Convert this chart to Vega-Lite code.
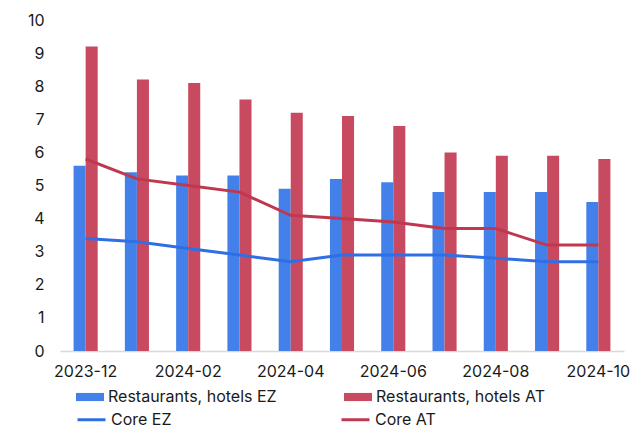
{
  "$schema": "https://vega.github.io/schema/vega-lite/v6.json",
  "autosize": {"type": "none"},
  "width": 564,
  "height": 331,
  "padding": {"left": 60, "top": 20, "right": 14, "bottom": 76},
  "config": {
    "font": "Inter",
    "view": {"stroke": null},
    "axis": {"labelFont": "Inter", "labelFontSize": 16, "labelColor": "#1a1a1a", "title": null, "grid": false, "ticks": false},
    "legend": {"labelFont": "Inter", "labelFontSize": 16, "labelColor": "#1a1a1a", "labelOffset": 4, "labelLimit": 300, "title": null, "padding": 0}
  },
  "datasets": {
    "bars": [
      {"month": "2023-12", "series": "Restaurants, hotels EZ", "value": 5.6},
      {"month": "2024-01", "series": "Restaurants, hotels EZ", "value": 5.4},
      {"month": "2024-02", "series": "Restaurants, hotels EZ", "value": 5.3},
      {"month": "2024-03", "series": "Restaurants, hotels EZ", "value": 5.3},
      {"month": "2024-04", "series": "Restaurants, hotels EZ", "value": 4.9},
      {"month": "2024-05", "series": "Restaurants, hotels EZ", "value": 5.2},
      {"month": "2024-06", "series": "Restaurants, hotels EZ", "value": 5.1},
      {"month": "2024-07", "series": "Restaurants, hotels EZ", "value": 4.8},
      {"month": "2024-08", "series": "Restaurants, hotels EZ", "value": 4.8},
      {"month": "2024-09", "series": "Restaurants, hotels EZ", "value": 4.8},
      {"month": "2024-10", "series": "Restaurants, hotels EZ", "value": 4.5},
      {"month": "2023-12", "series": "Restaurants, hotels AT", "value": 9.2},
      {"month": "2024-01", "series": "Restaurants, hotels AT", "value": 8.2},
      {"month": "2024-02", "series": "Restaurants, hotels AT", "value": 8.1},
      {"month": "2024-03", "series": "Restaurants, hotels AT", "value": 7.6},
      {"month": "2024-04", "series": "Restaurants, hotels AT", "value": 7.2},
      {"month": "2024-05", "series": "Restaurants, hotels AT", "value": 7.1},
      {"month": "2024-06", "series": "Restaurants, hotels AT", "value": 6.8},
      {"month": "2024-07", "series": "Restaurants, hotels AT", "value": 6.0},
      {"month": "2024-08", "series": "Restaurants, hotels AT", "value": 5.9},
      {"month": "2024-09", "series": "Restaurants, hotels AT", "value": 5.9},
      {"month": "2024-10", "series": "Restaurants, hotels AT", "value": 5.8}
    ],
    "lines": [
      {"month": "2023-12", "series": "Core EZ", "value": 3.4},
      {"month": "2024-01", "series": "Core EZ", "value": 3.3},
      {"month": "2024-02", "series": "Core EZ", "value": 3.1},
      {"month": "2024-03", "series": "Core EZ", "value": 2.9},
      {"month": "2024-04", "series": "Core EZ", "value": 2.7},
      {"month": "2024-05", "series": "Core EZ", "value": 2.9},
      {"month": "2024-06", "series": "Core EZ", "value": 2.9},
      {"month": "2024-07", "series": "Core EZ", "value": 2.9},
      {"month": "2024-08", "series": "Core EZ", "value": 2.8},
      {"month": "2024-09", "series": "Core EZ", "value": 2.7},
      {"month": "2024-10", "series": "Core EZ", "value": 2.7},
      {"month": "2023-12", "series": "Core AT", "value": 5.8},
      {"month": "2024-01", "series": "Core AT", "value": 5.2},
      {"month": "2024-02", "series": "Core AT", "value": 5.0},
      {"month": "2024-03", "series": "Core AT", "value": 4.8},
      {"month": "2024-04", "series": "Core AT", "value": 4.1},
      {"month": "2024-05", "series": "Core AT", "value": 4.0},
      {"month": "2024-06", "series": "Core AT", "value": 3.9},
      {"month": "2024-07", "series": "Core AT", "value": 3.7},
      {"month": "2024-08", "series": "Core AT", "value": 3.7},
      {"month": "2024-09", "series": "Core AT", "value": 3.2},
      {"month": "2024-10", "series": "Core AT", "value": 3.2}
    ]
  },
  "encoding": {
    "x": {
      "field": "month", "type": "nominal",
      "scale": {"paddingInner": 0.53, "paddingOuter": 0.265},
      "axis": {
        "labelAngle": 0, "labelPadding": 12, "domainColor": "#d9d9d9", "domainWidth": 1.5,
        "values": ["2023-12", "2024-02", "2024-04", "2024-06", "2024-08", "2024-10"]
      }
    },
    "y": {
      "field": "value", "type": "quantitative",
      "scale": {"domain": [0, 10], "nice": false},
      "axis": {"values": [0, 1, 2, 3, 4, 5, 6, 7, 8, 9, 10], "domain": false, "labelPadding": 16, "labelOverlap": false}
    }
  },
  "layer": [
    {
      "data": {"name": "bars"},
      "mark": {"type": "bar"},
      "encoding": {
        "xOffset": {"field": "series", "type": "nominal", "sort": ["Restaurants, hotels EZ", "Restaurants, hotels AT"]},
        "fill": {
          "field": "series", "type": "nominal",
          "scale": {"domain": ["Restaurants, hotels EZ", "Restaurants, hotels AT"], "range": ["#4480ea", "#c84a60"]},
          "legend": {
            "orient": "none", "legendX": 16, "legendY": 363, "columns": 2, "columnPadding": 67,
            "symbolType": "M-1,-0.29H1V0.29H-1Z", "symbolSize": 784, "symbolStrokeWidth": 0
          }
        }
      }
    },
    {
      "data": {"name": "lines"},
      "mark": {"type": "line", "strokeWidth": 3},
      "encoding": {
        "stroke": {
          "field": "series", "type": "nominal",
          "scale": {"domain": ["Core EZ", "Core AT"], "range": ["#2f6fe4", "#c0384f"]},
          "legend": {
            "orient": "none", "legendX": 16, "legendY": 384, "columns": 2, "columnPadding": 163,
            "symbolType": "stroke", "symbolSize": 784, "symbolStrokeWidth": 3
          }
        }
      }
    }
  ]
}
